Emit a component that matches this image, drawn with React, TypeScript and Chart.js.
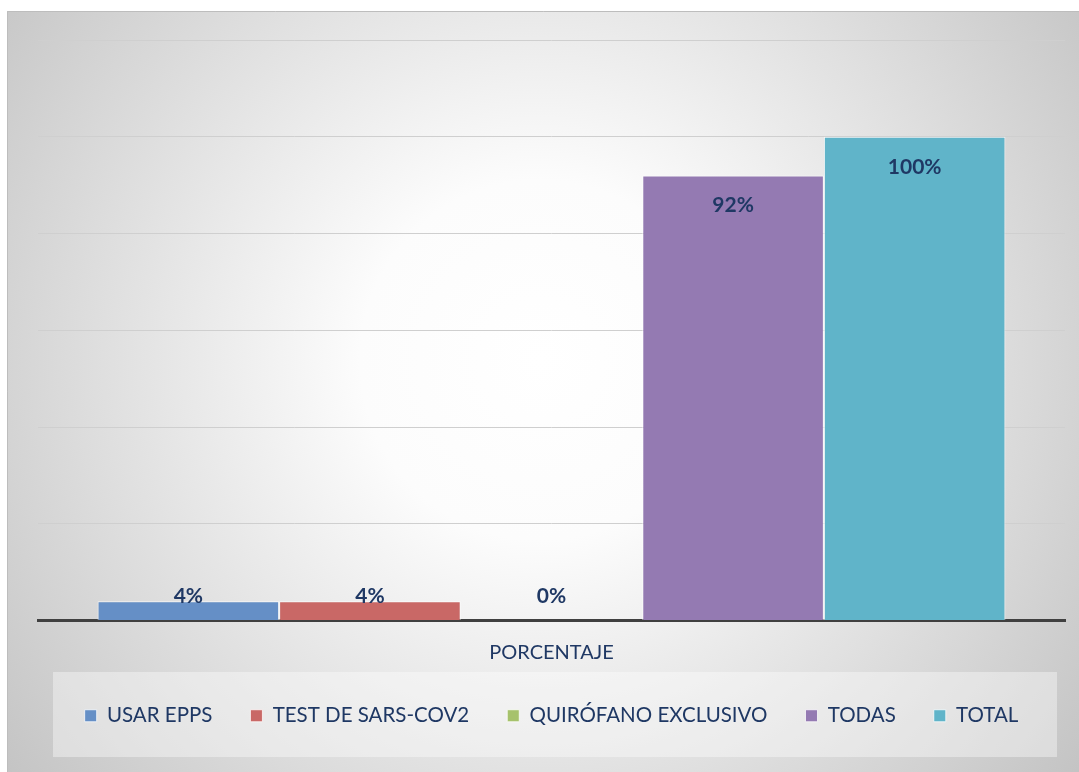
import React, { useEffect, useRef } from "react";
import { Chart, registerables } from "chart.js";

Chart.register(...registerables);

const categories = ["PORCENTAJE"];
const seriesNames = ["USAR EPPS", "TEST DE SARS-COV2", "QUIRÓFANO EXCLUSIVO", "TODAS", "TOTAL"];
const seriesValues = [4, 4, 0, 92, 100];
const seriesColors = ["#658fc6", "#c96866", "#a6c26c", "#947ab2", "#60b4c9"];
const yTicks = [0, 20, 40, 60, 80, 100, 120];

const FONT = "Lato, 'Open Sans', sans-serif";
const TEXT_COLOR = "#1f3864";

const backgroundPlugin = {
  id: "bgPanel",
  beforeDraw(chart: any) {
    const { ctx, width, height } = chart;
    ctx.save();
    ctx.fillStyle = "#ffffff";
    ctx.fillRect(0, 0, width, height);
    const g = ctx.createRadialGradient(540, 360, 0, 540, 360, 720);
    g.addColorStop(0, "#ffffff");
    g.addColorStop(0.25, "#fcfcfc");
    g.addColorStop(1, "#bfbfbf");
    ctx.fillStyle = g;
    ctx.fillRect(7, 11, width - 7, height - 11);
    ctx.strokeStyle = "#bdbdbd";
    ctx.lineWidth = 1;
    ctx.beginPath();
    ctx.moveTo(7.5, height);
    ctx.lineTo(7.5, 11.5);
    ctx.lineTo(width, 11.5);
    ctx.stroke();
    // legend panel
    ctx.fillStyle = "rgba(255,255,255,0.38)";
    ctx.fillRect(53, 672, 1004, 85);
    ctx.restore();
  },
};

const labelPlugin = {
  id: "barLabels",
  afterDatasetsDraw(chart: any) {
    const { ctx } = chart;
    const base = chart.scales.y.getPixelForValue(0);
    ctx.save();
    ctx.font = `bold 21px ${FONT}`;
    ctx.fillStyle = TEXT_COLOR;
    ctx.textAlign = "center";
    ctx.textBaseline = "middle";
    chart.data.datasets.forEach((ds: any, i: number) => {
      const meta = chart.getDatasetMeta(i);
      meta.data.forEach((bar: any, j: number) => {
        const y = Math.min(bar.y + 30, base - 24);
        ctx.fillText(`${ds.data[j]}%`, bar.x, y);
      });
    });
    ctx.restore();
  },
};

export default function App() {
  const ref = useRef<HTMLCanvasElement | null>(null);
  useEffect(() => {
    if (!ref.current) return;
    const chart = new Chart(ref.current, {
      type: "bar",
      data: {
        labels: categories,
        datasets: seriesNames.map((name, i) => ({
          label: name,
          data: [seriesValues[i]],
          backgroundColor: seriesColors[i],
          borderColor: "rgba(255,255,255,0.75)",
          borderWidth: 1,
          categoryPercentage: 0.884,
          barPercentage: 1,
        })),
      },
      options: {
        animation: false,
        responsive: false,
        maintainAspectRatio: false,
        layout: { padding: { left: 38, right: 14, top: 40, bottom: 36 } },
        plugins: {
          tooltip: { enabled: false },
          legend: {
            position: "bottom",
            labels: {
              boxWidth: 12,
              boxHeight: 12,
              padding: 38,
              color: TEXT_COLOR,
              font: { family: FONT, size: 20.5 },
            },
          },
        },
        scales: {
          x: {
            grid: { display: false, drawTicks: false },
            border: { display: true, color: "#404040", width: 3 },
            ticks: { color: TEXT_COLOR, padding: 20, font: { family: FONT, size: 20 } },
            afterFit: (s: any) => {
              s.height = 47;
            },
          },
          y: {
            min: 0,
            max: 120,
            afterBuildTicks: (s: any) => {
              s.ticks = yTicks.map((v) => ({ value: v }));
            },
            ticks: { display: false },
            grid: { color: "#cfcfcf", lineWidth: 1, drawTicks: false },
            border: { display: false },
            afterFit: (s: any) => {
              s.width = 0;
            },
          },
        },
      },
      plugins: [backgroundPlugin, labelPlugin],
    });
    return () => chart.destroy();
  }, []);
  return (
    <div style={{ position: "absolute", left: 0, top: 0, width: 1079, height: 772 }}>
      <canvas ref={ref} width={1079} height={772} style={{ width: 1079, height: 772, display: "block" }} />
    </div>
  );
}
